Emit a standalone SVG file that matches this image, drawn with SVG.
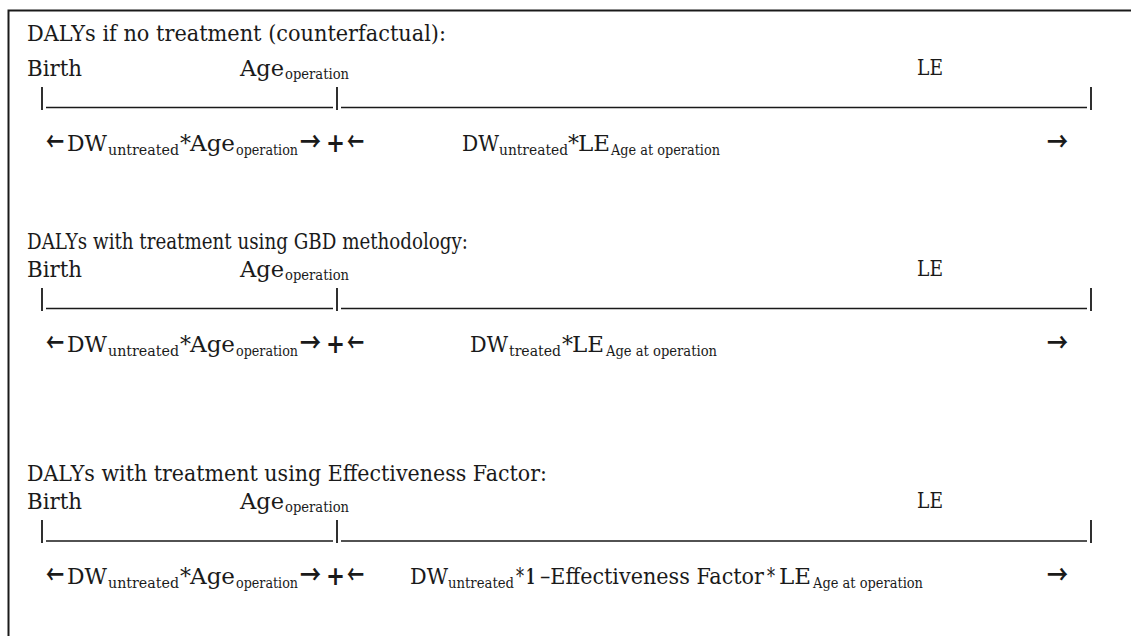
<svg xmlns="http://www.w3.org/2000/svg" width="1131" height="636" viewBox="0 0 1131 636">
<style>
.t{font-family:"DejaVu Serif","Liberation Serif",serif;font-size:22px;fill:#1a1a1a}
.s{font-size:14px}
.a{font-family:"Noto Sans CJK SC","DejaVu Sans",sans-serif;font-size:26px;font-weight:bold;fill:#1a1a1a}
.p{font-family:"DejaVu Sans",sans-serif;font-size:27px;font-weight:bold;fill:#1a1a1a}
.ln{stroke:#1a1a1a;stroke-width:1.3;fill:none}
.tk{stroke:#1a1a1a;stroke-width:1.8;fill:none}
.fr{stroke:#1a1a1a;stroke-width:2;fill:none}
</style>
<rect width="1131" height="636" fill="#fff"/>
<path class="fr" d="M8.5,636 V10.5 H1131"/>

<g id="sec1">
<text class="t" x="27" y="41" textLength="419" lengthAdjust="spacingAndGlyphs">DALYs if no treatment (counterfactual):</text>
<text class="t" x="27" y="76" textLength="55" lengthAdjust="spacingAndGlyphs">Birth</text>
<text class="t" x="240" y="76"><tspan textLength="44" lengthAdjust="spacingAndGlyphs">Age</tspan><tspan class="s" x="285" y="79" textLength="64" lengthAdjust="spacingAndGlyphs">operation</tspan></text>
<text class="t" x="917" y="75" textLength="26" lengthAdjust="spacingAndGlyphs">LE</text>
<g id="tl1">
<path class="tk" d="M42,87 V110 M337,87 V110 M1091,87 V110"/>
<path class="ln" d="M46,107.5 H333 M341,107.5 H1087"/>
</g>
<text class="a" x="46" y="151" textLength="18" lengthAdjust="spacingAndGlyphs">←</text>
<text class="t" x="67" y="151"><tspan textLength="40" lengthAdjust="spacingAndGlyphs">DW</tspan><tspan class="s" x="108" y="155" textLength="71" lengthAdjust="spacingAndGlyphs">untreated</tspan><tspan x="180" y="151">*</tspan><tspan x="190" textLength="45" lengthAdjust="spacingAndGlyphs">Age</tspan><tspan class="s" x="236" y="155" textLength="62" lengthAdjust="spacingAndGlyphs">operation</tspan></text>
<text class="a" x="300" y="151" textLength="21" lengthAdjust="spacingAndGlyphs">→</text>
<text class="p" x="326" y="152" textLength="19" lengthAdjust="spacingAndGlyphs">+</text>
<text class="a" x="347" y="151" textLength="17" lengthAdjust="spacingAndGlyphs">←</text>
<text class="t" x="462" y="151"><tspan textLength="37" lengthAdjust="spacingAndGlyphs">DW</tspan><tspan class="s" x="499" y="155" textLength="69" lengthAdjust="spacingAndGlyphs">untreated</tspan><tspan x="568" y="151">*</tspan><tspan x="578" textLength="32" lengthAdjust="spacingAndGlyphs">LE</tspan><tspan class="s" x="611" y="155" textLength="109" lengthAdjust="spacingAndGlyphs">Age at operation</tspan></text>
<text class="a" x="1047" y="151" textLength="21" lengthAdjust="spacingAndGlyphs">→</text>
</g>

<g id="sec2">
<text class="t" x="27" y="249" textLength="441" lengthAdjust="spacingAndGlyphs">DALYs with treatment using GBD methodology:</text>
<text class="t" x="27" y="277" textLength="55" lengthAdjust="spacingAndGlyphs">Birth</text>
<text class="t" x="240" y="277"><tspan textLength="44" lengthAdjust="spacingAndGlyphs">Age</tspan><tspan class="s" x="285" y="280" textLength="64" lengthAdjust="spacingAndGlyphs">operation</tspan></text>
<text class="t" x="917" y="276" textLength="26" lengthAdjust="spacingAndGlyphs">LE</text>
<g id="tl2">
<path class="tk" d="M42,288 V311 M337,288 V311 M1091,288 V311"/>
<path class="ln" d="M46,308.5 H333 M341,308.5 H1087"/>
</g>
<text class="a" x="46" y="352" textLength="18" lengthAdjust="spacingAndGlyphs">←</text>
<text class="t" x="67" y="352"><tspan textLength="40" lengthAdjust="spacingAndGlyphs">DW</tspan><tspan class="s" x="108" y="356" textLength="71" lengthAdjust="spacingAndGlyphs">untreated</tspan><tspan x="180" y="352">*</tspan><tspan x="190" textLength="45" lengthAdjust="spacingAndGlyphs">Age</tspan><tspan class="s" x="236" y="356" textLength="62" lengthAdjust="spacingAndGlyphs">operation</tspan></text>
<text class="a" x="300" y="352" textLength="21" lengthAdjust="spacingAndGlyphs">→</text>
<text class="p" x="326" y="353" textLength="19" lengthAdjust="spacingAndGlyphs">+</text>
<text class="a" x="347" y="352" textLength="17" lengthAdjust="spacingAndGlyphs">←</text>
<text class="t" x="470" y="352"><tspan textLength="38" lengthAdjust="spacingAndGlyphs">DW</tspan><tspan class="s" x="509" y="356" textLength="52" lengthAdjust="spacingAndGlyphs">treated</tspan><tspan x="562" y="352">*</tspan><tspan x="572" textLength="32" lengthAdjust="spacingAndGlyphs">LE</tspan><tspan class="s" x="606" y="356" textLength="111" lengthAdjust="spacingAndGlyphs">Age at operation</tspan></text>
<text class="a" x="1047" y="352" textLength="21" lengthAdjust="spacingAndGlyphs">→</text>
</g>

<g id="sec3">
<text class="t" x="27" y="481" textLength="520" lengthAdjust="spacingAndGlyphs">DALYs with treatment using Effectiveness Factor:</text>
<text class="t" x="27" y="509" textLength="55" lengthAdjust="spacingAndGlyphs">Birth</text>
<text class="t" x="240" y="509"><tspan textLength="44" lengthAdjust="spacingAndGlyphs">Age</tspan><tspan class="s" x="285" y="512" textLength="64" lengthAdjust="spacingAndGlyphs">operation</tspan></text>
<text class="t" x="917" y="508" textLength="26" lengthAdjust="spacingAndGlyphs">LE</text>
<g id="tl3">
<path class="tk" d="M42,520 V543 M337,520 V543 M1091,520 V543"/>
<path class="ln" d="M46,541 H333 M341,541 H1087"/>
</g>
<text class="a" x="46" y="584" textLength="18" lengthAdjust="spacingAndGlyphs">←</text>
<text class="t" x="67" y="584"><tspan textLength="40" lengthAdjust="spacingAndGlyphs">DW</tspan><tspan class="s" x="108" y="588" textLength="71" lengthAdjust="spacingAndGlyphs">untreated</tspan><tspan x="180" y="584">*</tspan><tspan x="190" textLength="45" lengthAdjust="spacingAndGlyphs">Age</tspan><tspan class="s" x="236" y="588" textLength="62" lengthAdjust="spacingAndGlyphs">operation</tspan></text>
<text class="a" x="300" y="584" textLength="21" lengthAdjust="spacingAndGlyphs">→</text>
<text class="p" x="326" y="585" textLength="19" lengthAdjust="spacingAndGlyphs">+</text>
<text class="a" x="347" y="584" textLength="17" lengthAdjust="spacingAndGlyphs">←</text>
<text class="t" x="410" y="584"><tspan textLength="38" lengthAdjust="spacingAndGlyphs">DW</tspan><tspan class="s" x="448" y="588" textLength="66" lengthAdjust="spacingAndGlyphs">untreated</tspan><tspan x="516" y="584" textLength="8" lengthAdjust="spacingAndGlyphs">*</tspan><tspan x="526" font-weight="bold" textLength="9" lengthAdjust="spacingAndGlyphs">1</tspan><tspan x="540" textLength="224" lengthAdjust="spacingAndGlyphs">–Effectiveness Factor</tspan><tspan x="767" textLength="8" lengthAdjust="spacingAndGlyphs">*</tspan><tspan x="779" textLength="32" lengthAdjust="spacingAndGlyphs">LE</tspan><tspan class="s" x="813" y="588" textLength="110" lengthAdjust="spacingAndGlyphs">Age at operation</tspan></text>
<text class="a" x="1047" y="584" textLength="21" lengthAdjust="spacingAndGlyphs">→</text>
</g>
</svg>
